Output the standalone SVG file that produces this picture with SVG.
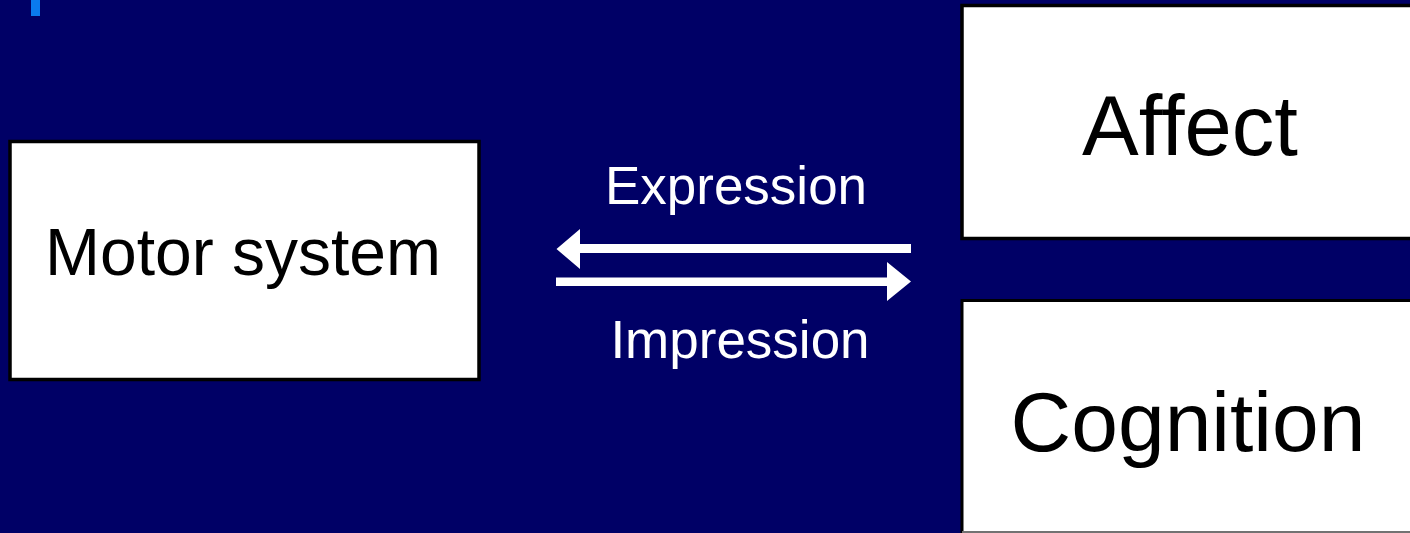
<svg xmlns="http://www.w3.org/2000/svg" width="1410" height="533" viewBox="0 0 1410 533">
<style>
.box{fill:#fff;stroke:#000;stroke-width:3.5}
.lbl{font-family:"Liberation Sans",Arial,sans-serif;fill:#000;text-anchor:middle}
.wl{font-family:"Liberation Sans",Arial,sans-serif;fill:#fff;text-anchor:middle;font-size:53px}
.arr{fill:#fff}
</style>
<rect x="0" y="0" width="1410" height="533" fill="#000066"/>
<rect x="31" y="0" width="9" height="16" fill="#0A7AEF"/>
<g id="motor">
<rect class="box" x="10" y="141.5" width="469" height="238"/>
<text class="lbl" x="243" y="275" font-size="66">Motor system</text>
</g>
<g id="affect">
<rect class="box" x="962" y="5.5" width="460" height="233"/>
<text class="lbl" x="1190" y="155" font-size="85">Affect</text>
</g>
<g id="cognition">
<rect class="box" x="962" y="300.5" width="460" height="232" style="stroke-width:3"/>
<line x1="962" y1="532" x2="1410" y2="532" stroke="#999" stroke-width="1.5"/>
<text class="lbl" x="1188" y="451" font-size="84">Cognition</text>
</g>
<g id="connectors">
<polygon class="arr" points="911,244 580,244 580,229 556.5,249 580,269 580,253 911,253"/>
<polygon class="arr" points="556,277.5 887,277.5 887,262 911,281.5 887,301 887,286 556,286"/>
<text class="wl" x="736" y="204">Expression</text>
<text class="wl" x="740" y="358">Impression</text>
</g>
</svg>
